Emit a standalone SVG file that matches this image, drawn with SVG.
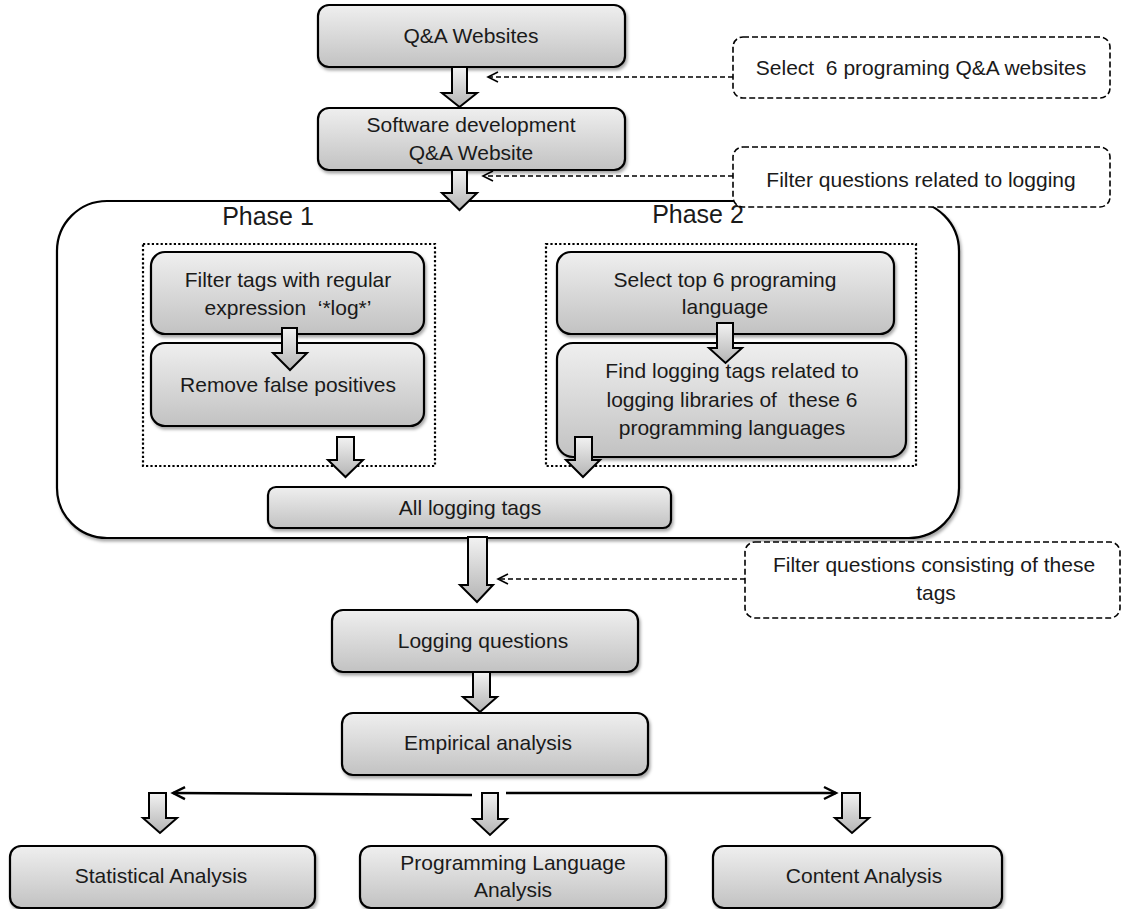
<svg xmlns="http://www.w3.org/2000/svg" width="1121" height="909" viewBox="0 0 1121 909">
<defs>
  <linearGradient id="boxGrad" x1="0" y1="0" x2="0" y2="1">
    <stop offset="0" stop-color="#efefef"/>
    <stop offset="1" stop-color="#c2c2c2"/>
  </linearGradient>
  <linearGradient id="arrGrad" x1="0" y1="0" x2="0" y2="1">
    <stop offset="0" stop-color="#f2f2f2"/>
    <stop offset="1" stop-color="#b4b4b4"/>
  </linearGradient>
  <filter id="shadow" x="-5%" y="-10%" width="112%" height="130%">
    <feDropShadow dx="1.5" dy="2.5" stdDeviation="1.8" flood-color="#000" flood-opacity="0.35"/>
  </filter>
  <marker id="openArrow" markerUnits="userSpaceOnUse" markerWidth="14" markerHeight="14" refX="11" refY="6" orient="auto">
    <path d="M1,1 L11,6 L1,11" fill="none" stroke="#000" stroke-width="1.6"/>
  </marker>
  <marker id="openArrowBig" markerUnits="userSpaceOnUse" markerWidth="18" markerHeight="18" refX="14" refY="8" orient="auto">
    <path d="M2,2 L14,8 L2,14" fill="none" stroke="#000" stroke-width="2.4"/>
  </marker>
  <style>
    .box { fill: url(#boxGrad); stroke: #000; stroke-width: 2.2; filter: url(#shadow); }
    .blk { fill: url(#arrGrad); stroke: #000; stroke-width: 2; stroke-linejoin: miter; }
    .dashbox { fill: #fff; stroke: #000; stroke-width: 1.6; stroke-dasharray: 6 3; }
    .dotbox { fill: none; stroke: #000; stroke-width: 2.2; stroke-dasharray: 2.2 2.2; }
    .frame { fill: #fff; stroke: #000; stroke-width: 2.2; filter: url(#shadow); }
    .dashline { fill: none; stroke: #000; stroke-width: 1.6; stroke-dasharray: 5 3; marker-end: url(#openArrow); }
    .solidline { fill: none; stroke: #000; stroke-width: 2.4; marker-end: url(#openArrowBig); }
    text { font-family: "Liberation Sans", Arial, sans-serif; font-size: 21px; fill: #1a1a1a; text-anchor: middle; white-space: pre; }
    .phase { font-size: 25px; }
  </style>
</defs>

<rect width="1121" height="909" fill="#fff"/>

<!-- Phase frame -->
<g id="phase-frame">
  <rect class="frame" x="57" y="201" width="902" height="337" rx="50" ry="50"/>
  <text class="phase" x="268" y="225">Phase 1</text>
  <text class="phase" x="698" y="223">Phase 2</text>
</g>

<g id="phase1-group">
  <rect class="dotbox" x="143" y="244" width="292" height="222"/>
</g>
<g id="phase2-group">
  <rect class="dotbox" x="546" y="244" width="370" height="222"/>
</g>

<!-- Nodes -->
<g id="qa-websites">
  <rect class="box" x="318" y="5" width="307" height="62" rx="11"/>
  <text x="471" y="43">Q&amp;A Websites</text>
</g>
<g id="software-dev-qa">
  <rect class="box" x="318" y="108" width="307" height="62" rx="11"/>
  <text x="471" y="132">Software development</text>
  <text x="471" y="160">Q&amp;A Website</text>
</g>
<g id="filter-tags-regex">
  <rect class="box" x="151" y="252" width="273" height="82" rx="14"/>
  <text x="288" y="287">Filter tags with regular</text>
  <text x="288" y="315">expression  ‘*log*’</text>
</g>
<g id="remove-false-positives">
  <rect class="box" x="151" y="343" width="273" height="83" rx="14"/>
  <text x="288" y="392">Remove false positives</text>
</g>
<g id="select-top-languages">
  <rect class="box" x="557" y="252" width="337" height="82" rx="14"/>
  <text x="725" y="287">Select top 6 programing</text>
  <text x="725" y="314">language</text>
</g>
<g id="find-logging-tags">
  <rect class="box" x="557" y="343" width="349" height="114" rx="16"/>
  <text x="732" y="378">Find logging tags related to</text>
  <text x="732" y="407">logging libraries of  these 6</text>
  <text x="732" y="435">programming languages</text>
</g>
<g id="all-logging-tags">
  <rect class="box" x="268" y="487" width="403" height="41" rx="8"/>
  <text x="470" y="515">All logging tags</text>
</g>
<g id="logging-questions">
  <rect class="box" x="332" y="610" width="306" height="62" rx="11"/>
  <text x="483" y="648">Logging questions</text>
</g>
<g id="empirical-analysis">
  <rect class="box" x="342" y="713" width="306" height="62" rx="11"/>
  <text x="488" y="750">Empirical analysis</text>
</g>
<g id="statistical-analysis">
  <rect class="box" x="10" y="846" width="305" height="62" rx="11"/>
  <text x="161" y="883">Statistical Analysis</text>
</g>
<g id="programming-language-analysis">
  <rect class="box" x="360" y="846" width="306" height="62" rx="11"/>
  <text x="513" y="870">Programming Language</text>
  <text x="513" y="897">Analysis</text>
</g>
<g id="content-analysis">
  <rect class="box" x="713" y="846" width="289" height="62" rx="11"/>
  <text x="864" y="883">Content Analysis</text>
</g>

<!-- Annotation boxes -->
<g id="note-select-websites">
  <rect class="dashbox" x="733" y="37" width="377" height="61" rx="10"/>
  <text x="921" y="75">Select  6 programing Q&amp;A websites</text>
</g>
<g id="note-filter-logging">
  <rect class="dashbox" x="733" y="147" width="377" height="60" rx="10"/>
  <text x="921" y="187">Filter questions related to logging</text>
</g>
<g id="note-filter-tags">
  <rect class="dashbox" x="745" y="542" width="375" height="76" rx="10"/>
  <text x="934" y="572">Filter questions consisting of these</text>
  <text x="936" y="600">tags</text>
</g>

<!-- Connectors -->
<g id="connectors">
  <path class="blk" d="M452,67 H467 V93 H477 L459.5,107 L442,93 H452 Z"/>
  <path class="blk" d="M452,170 H467 V193 H477 L459.5,210 L442,193 H452 Z"/>
  <path class="blk" d="M282,328 H297 V353 H307 L290,370 L273,353 H282 Z"/>
  <path class="blk" d="M337,437 H354 V460 H363 L345.5,477 L328,460 H337 Z"/>
  <path class="blk" d="M717,323 H733 V348 H742 L725.5,363 L709,348 H717 Z"/>
  <path class="blk" d="M575,437 H592 V460 H600 L583,477 L566,460 H575 Z"/>
  <path class="blk" d="M468,537 H487 V585 H493 L477,602 L460,585 H468 Z"/>
  <path class="blk" d="M473,672 H490 V697 H497 L480,712 L463,697 H473 Z"/>
  <path class="blk" d="M149,793 H166 V818 H177 L160,833 L143,818 H149 Z"/>
  <path class="blk" d="M482,793 H498 V819 H507 L490,835 L473,819 H482 Z"/>
  <path class="blk" d="M842,793 H860 V818 H869 L852,833 L835,818 H842 Z"/>

  <path class="dashline" d="M733,77 H488"/>
  <path class="dashline" d="M733,176 H483"/>
  <path class="dashline" d="M745,579 H498"/>

  <path class="solidline" d="M472,795 L173,793"/>
  <path class="solidline" d="M506,793 L836,793"/>
</g>
</svg>
